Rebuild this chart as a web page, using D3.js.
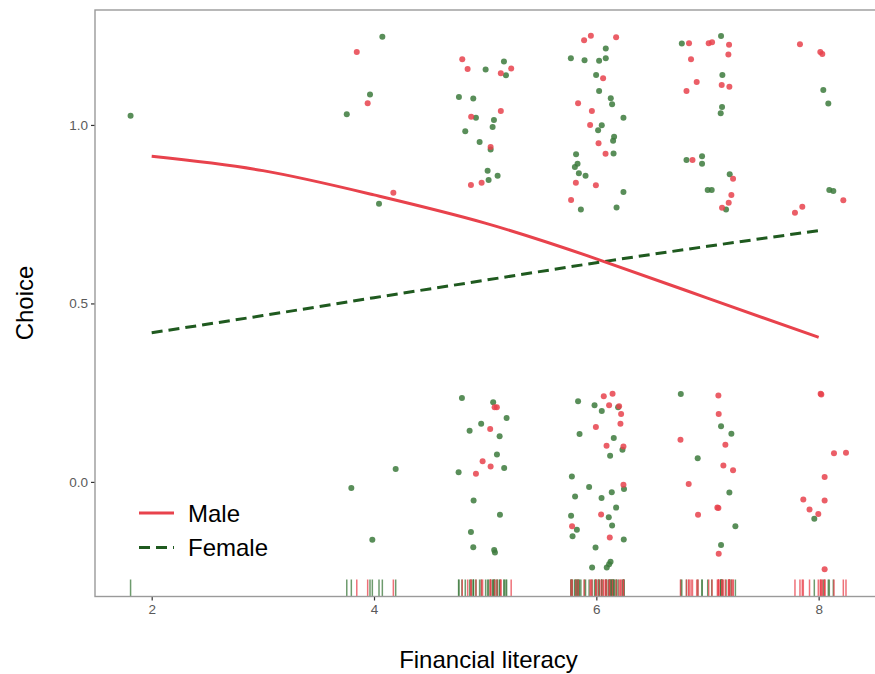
<!DOCTYPE html>
<html>
<head>
<meta charset="utf-8">
<script src="https://cdn.jsdelivr.net/npm/d3@7"></script>
<style>
  body { margin: 0; background: #fff; }
  svg { display: block; font-family: "Liberation Sans", Arial, sans-serif; }
</style>
</head>
<body>
<svg id="chart" width="875" height="674"></svg>
<script>
//
// D A T A
//
// jittered observations, [financial literacy, choice]
var malePts = [
  [3.845,1.204],[3.943,1.061],[4.174,0.810],
  [4.794,1.184],[4.842,1.157],[5.141,1.145],[5.234,1.158],[5.141,1.039],[4.874,1.023],[5.049,0.938],[4.968,0.838],[4.872,0.832],
  [5.890,1.237],[5.951,1.250],[6.178,1.246],[6.061,1.131],[5.836,1.061],[5.960,1.039],[5.944,1.000],[6.020,0.949],[6.083,0.919],[5.816,0.838],[5.996,0.831],[5.773,0.790],
  [6.834,1.229],[7.011,1.229],[7.041,1.232],[7.194,1.225],[7.188,1.197],[6.852,1.184],[6.903,1.120],[6.811,1.095],[7.128,1.112],[7.197,1.107],[6.865,0.902],[7.230,0.849],[7.215,0.804],[7.191,0.782],[7.131,0.768],
  [7.832,1.226],[8.015,1.204],[8.033,1.199],[8.222,0.789],[7.853,0.771],[7.787,0.754],
  [5.085,0.209],[5.105,0.209],[5.045,0.148],[4.977,0.058],[5.049,0.043],[4.917,0.023],
  [6.067,0.240],[6.146,0.247],[6.115,0.215],[6.205,0.212],[6.223,0.190],[6.217,0.163],[5.996,0.154],[6.092,0.101],[6.244,0.099],[6.244,-0.008],[6.043,-0.091],[5.782,-0.124],[6.121,-0.156],
  [7.098,0.242],[7.101,0.190],[6.757,0.118],[7.161,0.104],[7.143,0.046],[7.230,0.033],[6.831,-0.006],[7.089,-0.072],[7.098,-0.073],[6.915,-0.092],[7.101,-0.201],
  [8.018,0.247],[8.024,0.245],[8.138,0.080],[8.246,0.082],[8.054,0.014],[7.862,-0.049],[8.054,-0.052],[7.918,-0.077],[7.997,-0.090],[8.054,-0.245]
];
var femalePts = [
  [1.810,1.026],
  [4.075,1.247],[3.964,1.085],[3.755,1.030],[4.045,0.779],[3.796,-0.017],[4.195,0.036],[3.985,-0.162],
  [5.004,1.155],[5.169,1.178],[5.187,1.139],[4.764,1.078],[4.893,1.074],[4.917,1.020],[5.079,1.014],[5.067,0.994],[4.821,0.982],[4.950,0.952],[5.049,0.931],[5.022,0.872],[5.112,0.858],[5.031,0.846],
  [6.085,1.214],[5.771,1.187],[5.894,1.181],[6.025,1.180],[6.085,1.187],[5.998,1.140],[6.025,1.095],[6.130,1.075],[6.142,1.058],[6.244,1.020],[6.049,0.999],[6.016,0.985],[6.160,0.967],[6.151,0.956],[6.155,0.920],[5.818,0.918],[5.831,0.891],[5.807,0.882],[5.843,0.865],[5.903,0.858],[6.244,0.812],[5.861,0.763],[6.182,0.769],
  [6.769,1.228],[7.122,1.249],[7.134,1.140],[7.131,1.050],[7.119,1.033],[6.811,0.902],[6.951,0.912],[6.951,0.891],[7.200,0.862],[7.002,0.818],[7.038,0.818],[7.167,0.763],
  [8.042,1.098],[8.087,1.060],[8.096,0.818],[8.132,0.815],
  [4.791,0.235],[5.072,0.223],[5.193,0.179],[4.964,0.163],[4.860,0.143],[5.130,0.128],[5.106,0.077],[5.171,0.039],[4.761,0.027],[4.896,-0.052],[5.133,-0.092],[4.872,-0.140],[4.893,-0.183],[5.081,-0.191],[5.088,-0.198],
  [5.836,0.226],[5.984,0.215],[6.049,0.199],[6.196,0.209],[5.849,0.134],[6.157,0.123],[6.235,0.090],[6.124,0.073],[5.780,0.015],[5.935,-0.014],[5.809,-0.041],[6.047,-0.045],[6.139,-0.029],[6.249,-0.020],[6.178,-0.072],[5.773,-0.095],[6.112,-0.099],[6.142,-0.122],[5.825,-0.134],[5.786,-0.152],[6.247,-0.161],[5.993,-0.184],[6.128,-0.224],[6.115,-0.231],[6.094,-0.240],[5.962,-0.240],
  [6.760,0.246],[7.122,0.156],[7.215,0.135],[6.912,0.066],[7.197,-0.030],[7.251,-0.124],[7.122,-0.177],
  [7.961,-0.103]
];

// fitted curves
var fitX      = [2, 3, 4, 5, 6, 7, 8];
var maleFit   = [0.912, 0.872, 0.804, 0.725, 0.625, 0.515, 0.405];
var femaleFit = [0.418, 0.466, 0.516, 0.565, 0.614, 0.660, 0.704];

var xTicks = [2, 4, 6, 8];
var yTicks = [0, 0.5, 1];
var series = ['Male', 'Female'];

//
// S E T U P
//
var RED = '#e8424c', GREEN = '#3c7a3c', DKGREEN = '#1f5a1f';
var svg = d3.select('#chart');
var pLeft = 95, pRight = 882, pTop = 10, pBottom = 596.5;

var x = d3.scaleLinear().domain([1.49, 8.57]).range([pLeft, pRight]);
var y = d3.scaleLinear().domain([-0.321, 1.322]).range([pBottom, pTop]);

var panel = svg.append('g');

// points
function drawPoints(pts, color){
  panel.append('g').selectAll('circle')
    .data(pts).enter().append('circle')
      .attr('cx', function(d){ return x(d[0]); })
      .attr('cy', function(d){ return y(d[1]); })
      .attr('r', 3)
      .attr('fill', color)
      .attr('fill-opacity', 0.85);
}
drawPoints(femalePts, GREEN);
drawPoints(malePts, RED);

// rug along the bottom
function drawRug(pts, color){
  panel.append('g').selectAll('line')
    .data(pts).enter().append('line')
      .attr('x1', function(d){ return x(d[0]); })
      .attr('x2', function(d){ return x(d[0]); })
      .attr('y1', pBottom)
      .attr('y2', pBottom - 17)
      .attr('stroke', color)
      .attr('stroke-width', 1.5)
      .attr('stroke-opacity', 0.75);
}
drawRug(femalePts, GREEN);
drawRug(malePts, RED);

// fitted lines
var line = d3.line()
  .x(function(d){ return x(d[0]); })
  .y(function(d){ return y(d[1]); })
  .curve(d3.curveNatural);

panel.append('path')
  .attr('d', line(d3.zip(fitX, femaleFit)))
  .attr('fill', 'none')
  .attr('stroke', DKGREEN)
  .attr('stroke-width', 3)
  .attr('stroke-dasharray', '11,6');

panel.append('path')
  .attr('d', line(d3.zip(fitX, maleFit)))
  .attr('fill', 'none')
  .attr('stroke', RED)
  .attr('stroke-width', 3);

//
// A X E S
//
var xAxis = svg.append('g')
  .attr('transform', 'translate(0,' + pBottom + ')')
  .call(d3.axisBottom(x).tickValues(xTicks).tickSize(4).tickPadding(4).tickFormat(d3.format('d')));
var yAxis = svg.append('g')
  .attr('transform', 'translate(' + pLeft + ',0)')
  .call(d3.axisLeft(y).tickValues(yTicks).tickSize(4).tickPadding(3).tickFormat(d3.format('.1f')));

[xAxis, yAxis].forEach(function(a){
  a.select('.domain').remove();
  a.selectAll('.tick line').attr('stroke', '#333').attr('stroke-width', 1.2);
  a.selectAll('.tick text').attr('fill', '#5a5a5a').style('font-size', '13.5px')
    .style('font-family', '"Liberation Sans", Arial, sans-serif');
});

// panel border
svg.append('rect')
  .attr('x', pLeft).attr('y', pTop)
  .attr('width', pRight - pLeft).attr('height', pBottom - pTop)
  .attr('fill', 'none')
  .attr('stroke', '#9a9a9a')
  .attr('stroke-width', 1.4);

// titles
svg.append('text')
  .attr('x', (pLeft + pRight) / 2).attr('y', 668)
  .attr('text-anchor', 'middle')
  .style('font-size', '24px')
  .text('Financial literacy');

svg.append('text')
  .attr('transform', 'translate(33,303) rotate(-90)')
  .attr('text-anchor', 'middle')
  .style('font-size', '24px')
  .text('Choice');

//
// L E G E N D
//
var legend = svg.append('g').attr('transform', 'translate(139,513)');
var keys = legend.selectAll('g').data(series).enter().append('g')
  .attr('transform', function(d, i){ return 'translate(0,' + (i * 34.5) + ')'; });

keys.append('line')
  .attr('x1', 0).attr('x2', 35)
  .attr('stroke', function(d){ return d === 'Male' ? RED : DKGREEN; })
  .attr('stroke-width', 3)
  .attr('stroke-dasharray', function(d){ return d === 'Male' ? null : '11,6'; });

keys.append('text')
  .attr('x', 49).attr('y', 8.5)
  .style('font-size', '24px')
  .text(function(d){ return d; });
</script>
</body>
</html>
